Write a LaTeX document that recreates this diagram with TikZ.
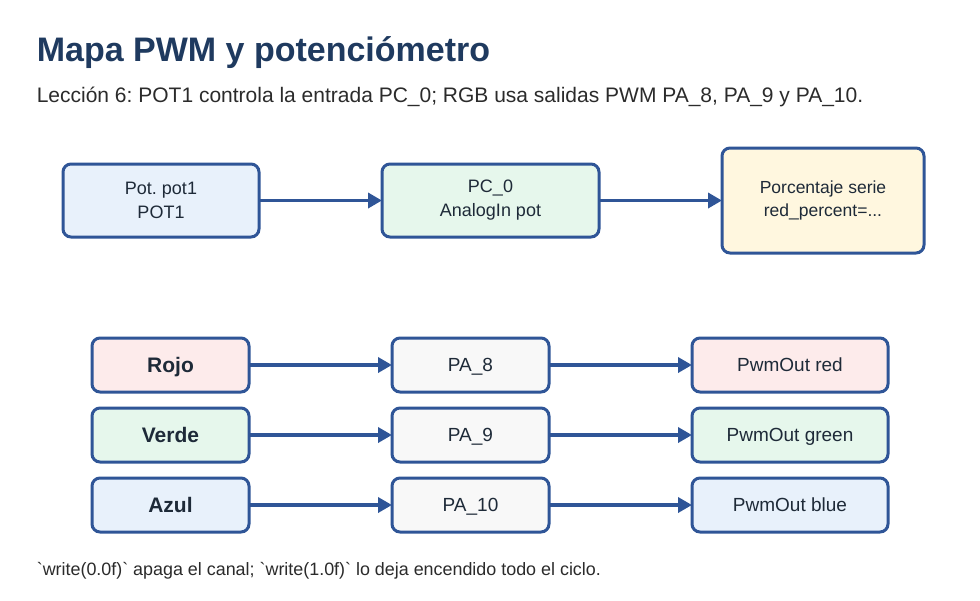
\documentclass[tikz,border=0pt]{standalone}
\usepackage{fontspec}
\setmainfont{Liberation Sans}
\usepackage{tikz}
\usetikzlibrary{arrows.meta,positioning}
\definecolor{linkblue}{HTML}{2F5597}
\definecolor{titleblue}{HTML}{1F3A5F}
\definecolor{inkdark}{HTML}{1E2A38}
\definecolor{subgray}{HTML}{2B2B2B}
\definecolor{fillblue}{HTML}{E8F1FB}
\definecolor{fillgreen}{HTML}{E6F7EC}
\definecolor{fillyellow}{HTML}{FFF7DF}
\definecolor{fillred}{HTML}{FDEBEB}
\definecolor{fillgray}{HTML}{F8F8F8}
\newcommand{\pin}[1]{PA\_#1}
\frenchspacing

\begin{document}
\begin{tikzpicture}[x=1pt,y=-1pt,->,>={Triangle[length=14pt,width=15pt]},draw=linkblue,line width=3.6pt]
        \tikzstyle{box} = [draw=linkblue, rounded corners=8pt, line width=3pt, outer sep=0pt, text=inkdark, align=center, font=\fontsize{18}{24}\selectfont]
        \tikzstyle{chan} = [box, minimum width=157pt, minimum height=54pt, text height=15pt, text depth=0pt, font=\fontsize{21}{25}\selectfont\bfseries]
        \tikzstyle{pinbox} = [box, minimum width=157pt, minimum height=54pt, text height=13.6pt, text depth=0pt, fill=fillgray, font=\fontsize{19}{23}\selectfont]
        \tikzstyle{pwm} = [box, minimum width=196pt, minimum height=54pt, text height=13.6pt, text depth=0pt, font=\fontsize{19}{23}\selectfont]
        \useasboundingbox[fill=white] (0,0) rectangle (980,600);

        % Texts
        \node[anchor=base west, inner sep=0pt, text=titleblue, font=\fontsize{34}{40}\selectfont\bfseries] (title) at (35,61) {Mapa PWM y potenciómetro};
        \node[anchor=base west, inner sep=0pt, text=subgray, font=\fontsize{21}{25}\selectfont] (sub) at (35,102) {Lección 6: POT1 controla la entrada PC\_0; RGB usa salidas PWM PA\_8, PA\_9 y PA\_10.};
        \node[anchor=base west, inner sep=0pt, text=subgray, font=\fontsize{17.9}{22}\selectfont] (note) at (35,575) {\textasciigrave write(0.0f)\textasciigrave{} apaga el canal; \textasciigrave write(1.0f)\textasciigrave{} lo deja encendido todo el ciclo.};

        % Nodes
        \node[box, fill=fillblue, minimum width=196pt, minimum height=73pt] (pot) at (161,200.5) {Pot. pot1\\POT1};
        \node[box, fill=fillgreen, minimum width=217pt, minimum height=73pt, right=123pt of pot] (pc0) {PC\_0\\AnalogIn pot};
        \node[box, fill=fillyellow, minimum width=202pt, minimum height=105pt, right=123pt of pc0, font=\fontsize{17.5}{23}\selectfont] (pct) {Porcentaje serie\\red\_percent=...};

        \node[chan, fill=fillred] (rojo) at (170.5,365) {Rojo};
        \node[chan, fill=fillgreen, below=16pt of rojo] (verde) {Verde};
        \node[chan, fill=fillblue, below=16pt of verde] (azul) {Azul};
        \node[pinbox, right=143pt of rojo] (pa8) {\pin{8}};
        \node[pinbox, right=143pt of verde] (pa9) {\pin{9}};
        \node[pinbox, right=143pt of azul] (pa10) {\pin{10}};
        \node[pwm, fill=fillred, right=143pt of pa8] (red) {PwmOut red};
        \node[pwm, fill=fillgreen, right=143pt of pa9] (green) {PwmOut green};
        \node[pwm, fill=fillblue, right=143pt of pa10] (blue) {PwmOut blue};

        % Edges
        \path (pot) edge (pc0);
        \path (pc0) edge (pct);
        \path (rojo) edge (pa8);
        \path (pa8) edge (red);
        \path (verde) edge (pa9);
        \path (pa9) edge (green);
        \path (azul) edge (pa10);
        \path (pa10) edge (blue);
\end{tikzpicture}
\end{document}
